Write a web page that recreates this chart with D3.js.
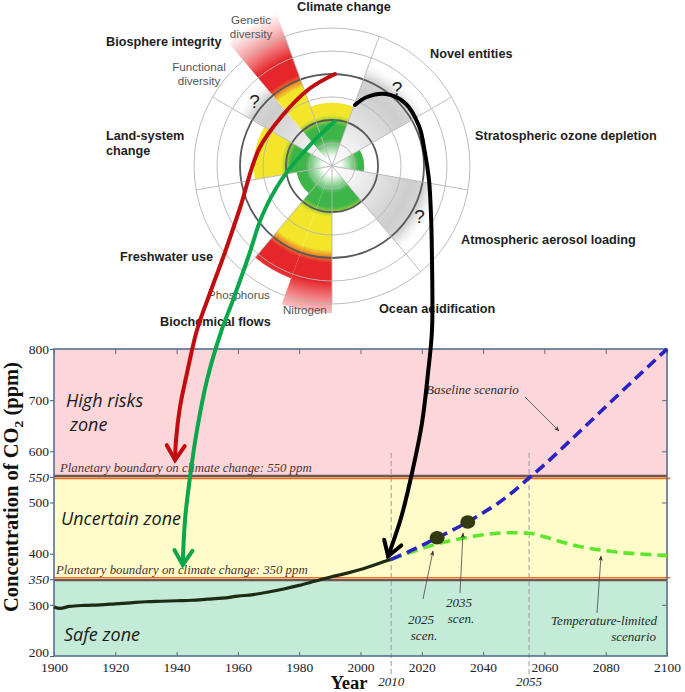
<!DOCTYPE html>
<html><head><meta charset="utf-8">
<script src="https://cdn.jsdelivr.net/npm/d3@7"></script>
<style>body{margin:0;background:#fff}</style>
</head><body>
<svg id="c" width="685" height="692"></svg>
<script>
// ---------------- DATA ----------------
const histYears = [1900,1902,1905,1910,1915,1920,1925,1930,1935,1940,1945,1950,1955,1960,1965,1970,1975,1980,1985,1990,1995,2000,2005,2010];
const histCO2   = [296, 293, 297, 299, 300, 302, 304, 306, 307, 308, 309, 311, 313, 317, 320, 325, 331, 338, 346, 354, 361, 369, 379, 389];
const baseYears = [2010,2015,2020,2025,2030,2035,2040,2045,2050,2055,2060,2070,2080,2090,2100];
const baseCO2   = [389, 402, 416, 431, 446, 462, 480, 499, 522, 548, 574, 630, 687, 744, 800];
const tempYears = [2010,2015,2020,2025,2030,2035,2040,2045,2050,2055,2060,2065,2070,2075,2080,2085,2090,2095,2100];
const tempCO2   = [389, 400, 410, 419, 426, 432, 437, 440, 441, 440, 433, 424, 416, 410, 406, 402, 400, 398, 396];
const scenYears = [2025, 2035];
const scenCO2   = [431, 462];
const xTicks = [1900,1920,1940,1960,1980,2000,2020,2040,2060,2080,2100];
const yTicks = [200,300,350,400,500,550,600,700,800];
const yTicksItalic = [350,550];
const zoneBreaks = [200,350,550,800];
const boundaryPPM = [350,550];
const markerYears = [2010,2055];

// Planetary boundaries wheel (angles in degrees clockwise from top, level in units of the boundary radius)
const wedgeNames = ["Climate change","Novel entities","Stratospheric ozone depletion","Atmospheric aerosol loading","Ocean acidification","Nitrogen","Phosphorus","Freshwater use","Land-system change","Functional diversity","Genetic diversity"];
const wedgeStart = [-20, 20, 60, 100, 140, 180, 200, 220, 260, 300, 320];
const wedgeEnd   = [ 20, 60,100, 140, 180, 200, 220, 260, 300, 320, 340];
const wedgeLevel = [1.37, 2.4, 0.7, 2.4, 1.0, 3.2, 2.6, 0.78, 1.7, 2.4, 3.5];
const wedgeKnown = [true,false,true,false,true,true,true,true,true,false,true];

// ---------------- LAYOUT ----------------
const svg = d3.select("#c");
const x = d3.scaleLinear().domain([1900,2100]).range([54,667]);
const y = d3.scaleLinear().domain([200,800]).range([656,349]);
const serif = "'Liberation Serif','Times New Roman',serif";
const sans = "'Liberation Sans',Arial,sans-serif";

// ---------- chart zones ----------
const zoneColors = ["#c3ebd8","#fffcc9","#fdd6da"];
const gChart = svg.append("g");
gChart.selectAll("rect.zone").data(d3.range(3)).join("rect")
  .attr("x", x(1900)).attr("width", x(2100)-x(1900))
  .attr("y", i => y(zoneBreaks[i+1]))
  .attr("height", i => y(zoneBreaks[i]) - y(zoneBreaks[i+1]))
  .attr("fill", i => zoneColors[i]);

// dashed markers
gChart.selectAll("line.mk").data(markerYears).join("line")
  .attr("x1", d=>x(d)).attr("x2", d=>x(d)).attr("y1", 453).attr("y2", 676)
  .attr("stroke","#9a9a9a").attr("stroke-width",1).attr("stroke-dasharray","5,3");

// boundary lines
boundaryPPM.forEach(v => {
  const off = v === 550 ? 1.5 : -1.5;
  gChart.append("line").attr("x1",x(1900)).attr("x2",x(2100)).attr("y1",y(v)-off*0.6).attr("y2",y(v)-off*0.6)
    .attr("stroke","#6e5656").attr("stroke-width",2.4);
  gChart.append("line").attr("x1",x(1900)).attr("x2",x(2100)+3).attr("y1",y(v)+off).attr("y2",y(v)+off)
    .attr("stroke","#f06a28").attr("stroke-width",1.6);
});

// axes
const axL = gChart.append("g").attr("transform",`translate(${x(1900)},0)`)
  .call(d3.axisLeft(y).tickValues(yTicks).tickSize(4).tickSizeOuter(0).tickPadding(1).tickFormat(d3.format("d")));
axL.select(".domain").remove();
axL.selectAll("text").attr("font-family",serif).attr("font-size",13.5).attr("fill","#222")
  .attr("font-style", d => yTicksItalic.includes(d) ? "italic" : "normal")
  .attr("dy", d => d === 200 ? "0.05em" : "0.32em");
axL.selectAll("line").attr("stroke","#555");

const axB = gChart.append("g").attr("transform",`translate(0,${y(200)})`)
  .call(d3.axisBottom(x).tickValues(xTicks).tickSize(-4).tickSizeOuter(0).tickPadding(6).tickFormat(d3.format("d")));
axB.select(".domain").remove();
axB.selectAll("text").attr("font-family",serif).attr("font-size",13.5).attr("fill","#222");
axB.selectAll("line").attr("stroke","#666");

const axT = gChart.append("g").attr("transform",`translate(0,${y(800)})`)
  .call(d3.axisTop(x).tickValues(xTicks).tickSize(-5).tickSizeOuter(0).tickFormat(""));
axT.select(".domain").remove();
axT.selectAll("line").attr("stroke","#667");

const axR = gChart.append("g").attr("transform",`translate(${x(2100)},0)`)
  .call(d3.axisRight(y).tickValues([300,400,500,600,700]).tickSize(-5).tickSizeOuter(0).tickFormat(""));
axR.select(".domain").remove();
axR.selectAll("line").attr("stroke","#667");

// frame
gChart.append("rect").attr("x",x(1900)).attr("y",y(800)).attr("width",x(2100)-x(1900)).attr("height",y(200)-y(800))
  .attr("fill","none").attr("stroke","#56708f").attr("stroke-width",1.6);

// axis titles
gChart.append("text").attr("x",349).attr("y",689).attr("text-anchor","middle")
  .attr("font-family",serif).attr("font-weight","bold").attr("font-size",18.5).attr("fill","#111").text("Year");
markerYears.forEach(v => {
  gChart.append("text").attr("x",x(v)).attr("y",686).attr("text-anchor","middle")
    .attr("font-family",serif).attr("font-style","italic").attr("font-size",13).attr("fill","#222").text(v);
});
const yt = gChart.append("text").attr("transform","translate(17.5,487) rotate(-90)").attr("text-anchor","middle")
  .attr("font-family",serif).attr("font-weight","bold").attr("font-size",20.5).attr("fill","#111");
yt.append("tspan").text("Concentration of CO");
yt.append("tspan").attr("font-size",13.5).attr("dy",5).text("2");
yt.append("tspan").attr("dy",-5).text(" (ppm)");

// zone labels
const zsty = s => s.attr("font-family","'Open Sans',sans-serif").attr("font-style","italic").attr("font-size",18).attr("fill","#1a1a1a");
zsty(gChart.append("text").attr("x",66).attr("y",407).text("High risks"));
zsty(gChart.append("text").attr("x",70).attr("y",431).text("zone"));
zsty(gChart.append("text").attr("x",61).attr("y",525).text("Uncertain zone"));
zsty(gChart.append("text").attr("x",64).attr("y",641).text("Safe zone"));

boundaryPPM.forEach(v => {
  gChart.append("text").attr("x", v===550 ? 60 : 56).attr("y", y(v) - 5)
    .attr("font-family",serif).attr("font-style","italic").attr("font-size",12.8).attr("fill","#4a3434")
    .text(`Planetary boundary on climate change: ${v} ppm`);
});

// data lines
const line = d3.line().x(d=>x(d[0])).y(d=>y(d[1])).curve(d3.curveMonotoneX);
gChart.append("path").attr("d", line(d3.zip(histYears,histCO2)))
  .attr("fill","none").attr("stroke","#1d2b14").attr("stroke-width",3.2);
gChart.append("path").attr("d", line(d3.zip(tempYears,tempCO2)))
  .attr("fill","none").attr("stroke","#5ee62c").attr("stroke-width",3.6).attr("stroke-dasharray","11,6");
gChart.append("path").attr("d", line(d3.zip(baseYears,baseCO2)))
  .attr("fill","none").attr("stroke","#2a22c4").attr("stroke-width",3.6).attr("stroke-dasharray","11,6");
gChart.selectAll("ellipse.sc").data(d3.zip(scenYears,scenCO2)).join("ellipse")
  .attr("cx",d=>x(d[0])).attr("cy",d=>y(d[1])).attr("rx",7.5).attr("ry",6.8).attr("fill","#323a12");

// small annotation arrows
const defs = svg.append("defs");
defs.append("marker").attr("id","ah").attr("viewBox","0 0 10 10").attr("refX",9).attr("refY",5)
  .attr("markerWidth",7).attr("markerHeight",7).attr("orient","auto")
  .append("path").attr("d","M0,1 L10,5 L0,9 L3,5 Z").attr("fill","#333");
const ann = (x1,y1,x2,y2) => gChart.append("line").attr("x1",x1).attr("y1",y1).attr("x2",x2).attr("y2",y2)
  .attr("stroke","#444").attr("stroke-width",0.8).attr("marker-end","url(#ah)");
const atxt = (t,xx,yy,anchor) => gChart.append("text").attr("x",xx).attr("y",yy).attr("text-anchor",anchor||"middle")
  .attr("font-family",serif).attr("font-style","italic").attr("font-size",13).attr("fill","#2a2a2a").text(t);
atxt("Baseline scenario", 426, 394, "start");
ann(525, 397, 559, 431);
atxt("2025", 421, 624); atxt("scen.", 424, 640);
ann(423, 599, 433, 551);
atxt("2035", 459, 607); atxt("scen.", 461, 623);
ann(460, 593, 463, 533);
atxt("Temperature-limited", 657, 625, "end"); atxt("scenario", 656, 641, "end");
ann(597, 613, 601, 556);

// ---------------- PLANETARY BOUNDARIES WHEEL ----------------
const cx = 332, cy = 166, R = 46;
const gW = svg.append("g").attr("transform",`translate(${cx},${cy})`);
const rg = defs.append("radialGradient").attr("id","pbg").attr("gradientUnits","userSpaceOnUse")
  .attr("cx",0).attr("cy",0).attr("r",165);
[[0,"#ffffff",1],[9,"#ffffff",1],[27,"#3db548",1],[41,"#3db548",1],[51,"#f3e62a",1],[84,"#f3e62a",1],[97,"#e5262b",1],[116,"#e5262b",1],[165,"#f27070",0]]
  .forEach(s => rg.append("stop").attr("offset",s[0]/165).attr("stop-color",s[1]).attr("stop-opacity",s[2]));
const gg = defs.append("radialGradient").attr("id","pgray").attr("gradientUnits","userSpaceOnUse")
  .attr("cx",0).attr("cy",0).attr("r",R*2.4);
[[0,"#ffffff",1],[0.2,"#f4f4f4",1],[0.72,"#cdcdcd",1],[0.86,"#d6d6d6",1],[1,"#ffffff",0]]
  .forEach(s => gg.append("stop").attr("offset",s[0]).attr("stop-color",s[1]).attr("stop-opacity",s[2]));

const arc = d3.arc().innerRadius(0);
const rad = Math.PI/180;
gW.selectAll("path.w").data(d3.range(wedgeNames.length)).join("path")
  .attr("d", i => arc({outerRadius: R*wedgeLevel[i], startAngle: wedgeStart[i]*rad, endAngle: wedgeEnd[i]*rad}))
  .attr("fill", i => wedgeKnown[i] ? "url(#pbg)" : "url(#pgray)");

// rings
const ringR = d3.range(1,7).map(k => k*R/2);
gW.selectAll("circle.r").data(ringR).join("circle").attr("r",d=>d).attr("fill","none")
  .attr("stroke",(d,i)=> (i===1||i===3) ? "#5a5a5a" : "#b4b4b4")
  .attr("stroke-width",(d,i)=> (i===1||i===3) ? 1.8 : 0.9);
// spokes
const spokes = [20,60,100,140,180,220,260,300,340];
gW.selectAll("line.s").data(spokes).join("line")
  .attr("x1",0).attr("y1",0)
  .attr("x2",a=>Math.sin(a*rad)*R*3).attr("y2",a=>-Math.cos(a*rad)*R*3)
  .attr("stroke","#b4b4b4").attr("stroke-width",0.9);
// question marks for unquantified boundaries
gW.selectAll("text.q").data(d3.range(wedgeNames.length).filter(i=>!wedgeKnown[i])).join("text")
  .attr("x", i => Math.sin((wedgeStart[i]+wedgeEnd[i])/2*rad)*R*2.2)
  .attr("y", i => -Math.cos((wedgeStart[i]+wedgeEnd[i])/2*rad)*R*2.2)
  .attr("dy","0.35em").attr("text-anchor","middle")
  .attr("font-family",sans).attr("font-size",19).attr("fill","#222").text("?");

// labels
const bLabels = [
  ["Climate change",297,7,"start","bold"],
  ["Biosphere integrity",106,42,"start","bold"],
  ["Genetic",251,20,"middle","normal"],["diversity",251,33.5,"middle","normal"],
  ["Functional",199,67,"middle","normal"],["diversity",199,80.5,"middle","normal"],
  ["Land-system",106,136,"start","bold"],["change",106,151,"start","bold"],
  ["Novel entities",430,54,"start","bold"],
  ["Stratospheric ozone depletion",475,136,"start","bold"],
  ["Atmospheric aerosol loading",461,240,"start","bold"],
  ["Ocean acidification",379,309,"start","bold"],
  ["Freshwater use",120,257,"start","bold"],
  ["Phosphorus",208,295,"start","normal"],
  ["Nitrogen",283,310,"start","normal"],
  ["Biochemical flows",160,322,"start","bold"]
];
svg.append("g").selectAll("text").data(bLabels).join("text")
  .attr("x",d=>d[1]).attr("y",d=>d[2]).attr("dy","0.35em").attr("text-anchor",d=>d[3])
  .attr("font-family",sans).attr("font-weight",d=>d[4])
  .attr("font-size",d=>d[4]==="bold"?12.7:11.6)
  .attr("fill",d=>d[4]==="bold"?"#1e1e1e":"#555").text(d=>d[0]);

// ---------------- LINKING ARROWS ----------------
const arrows = [
  {color:"#c10d0d", pts:[[335,74],[309,89],[282,116],[259,149],[240,208],[224,255],[210,293],[197,330],[187,373],[180,407],[176,440]], tip:[1939.5,583]},
  {color:"#0ca64c", pts:[[335,121],[312,143],[282,179],[262,216],[249,255],[233,300],[221,332],[207,380],[197,430],[190,477],[185,520]], tip:[1942,378]},
  {color:"#000000", pts:[[355,105],[367,97],[386,94],[405,103],[419,126],[425,153],[429,180],[431,215],[432,260],[432,330],[428,373],[422,423],[412,473],[401,518]], tip:[2009,395]}
];
const cl = d3.line().curve(d3.curveCatmullRom.alpha(0.5));
arrows.forEach(a => {
  const tp = [x(a.tip[0]), y(a.tip[1])];
  const pts = a.pts.concat([tp]);
  svg.append("path").attr("d", cl(pts)).attr("fill","none").attr("stroke",a.color)
    .attr("stroke-width",4).attr("stroke-linecap","round");
  const p = pts[pts.length-2];
  const ang = Math.atan2(tp[1]-p[1], tp[0]-p[0]);
  const L = 17, spread = 32*rad;
  const h1 = [tp[0]-L*Math.cos(ang-spread), tp[1]-L*Math.sin(ang-spread)];
  const h2 = [tp[0]-L*Math.cos(ang+spread), tp[1]-L*Math.sin(ang+spread)];
  svg.append("path").attr("d", `M${h1}L${tp}L${h2}`).attr("fill","none").attr("stroke",a.color)
    .attr("stroke-width",4).attr("stroke-linejoin","miter").attr("stroke-linecap","round");
});
</script>
</body></html>
